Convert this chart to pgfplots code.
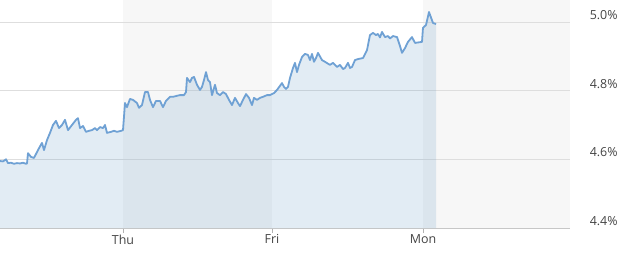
\documentclass[border=0pt]{standalone}
\usepackage{pgfplots}
\pgfplotsset{compat=1.18}
\usepackage{pgfplotstable}
\usepackage{fontspec}
\setmainfont{Open Sans}
\definecolor{linec}{RGB}{111,161,212}
\definecolor{fillc}{RGB}{110,160,200}
\definecolor{bandc}{RGB}{247,247,247}
\definecolor{gridc}{RGB}{222,222,222}
\definecolor{labc}{RGB}{68,68,68}
\pgfplotstableread{
x y
0 4.595
3 4.594
5 4.598
6 4.600
8 4.589
11 4.590
14 4.587
17 4.589
20 4.588
23 4.590
26 4.587
27 4.588
28 4.618
31 4.607
34 4.604
38 4.627
42 4.648
44 4.627
47 4.656
50 4.677
53 4.700
56 4.712
59 4.691
62 4.700
65 4.715
68 4.685
72 4.700
76 4.715
78 4.720
80 4.691
83 4.697
86 4.680
89 4.683
92 4.685
95 4.691
97 4.685
100 4.694
103 4.691
105 4.700
107 4.677
111 4.680
114 4.683
117 4.680
121 4.683
123 4.685
125 4.764
127 4.752
130 4.776
133 4.773
137 4.764
139 4.750
142 4.758
145 4.796
148 4.796
150 4.773
153 4.752
156 4.770
160 4.770
163 4.752
166 4.770
170 4.782
173 4.782
177 4.785
180 4.787
184 4.787
186 4.796
187 4.837
190 4.825
192 4.837
194 4.840
197 4.817
200 4.802
202 4.811
204 4.831
206 4.854
208 4.831
210 4.825
212 4.787
215 4.817
217 4.793
220 4.787
223 4.796
226 4.790
229 4.773
232 4.758
235 4.779
238 4.764
240 4.755
243 4.773
246 4.790
249 4.779
252 4.758
254 4.779
257 4.773
260 4.779
263 4.782
267 4.787
270 4.787
274 4.793
277 4.802
280 4.814
282 4.822
284 4.811
286 4.805
288 4.811
290 4.837
293 4.866
295 4.881
297 4.854
299 4.875
302 4.898
305 4.907
308 4.904
310 4.889
312 4.907
314 4.884
316 4.895
318 4.910
322 4.889
325 4.884
330 4.875
333 4.881
337 4.869
340 4.875
343 4.863
345 4.866
348 4.881
350 4.866
352 4.869
355 4.889
358 4.892
363 4.895
367 4.918
370 4.962
373 4.968
376 4.962
378 4.965
380 4.955
382 4.971
385 4.956
388 4.959
390 4.952
393 4.959
397 4.956
400 4.930
402 4.910
405 4.924
408 4.942
412 4.956
415 4.939
422 4.942
423 4.983
426 4.991
429 5.029
433 4.997
436 4.994
}\yielddata
\begin{document}
\begin{tikzpicture}
\useasboundingbox (0,-27bp) rectangle (634bp,228bp);
\begin{axis}[
  at={(0,0)}, anchor=south west,
  scale only axis, width=570bp, height=228bp,
  xmin=0, xmax=570, ymin=4.4, ymax=5.064,
  axis x line*=bottom, axis y line*=right,
  x axis line style={draw=black!22, -},
  y axis line style={draw=none},
  xtick={123,272,423}, xticklabels={Thu,Fri,Mon},
  ytick={4.4,4.6,4.8,5.0}, yticklabels={4.4\%,4.6\%,4.8\%,5.0\%},
  tick align=outside,
  xtick style={draw=black!30, line width=0.8bp},
  x tick style={/pgfplots/major tick length=5bp},
  ytick style={draw=none},
  ticklabel style={font=\fontsize{12.5}{14}\selectfont, text=labc},
  xticklabel style={yshift=1bp},
  yticklabel style={anchor=west, xshift=12bp, yshift=7bp},
  clip=false,
]
\addplot[fill=bandc, draw=none] coordinates {(123,4.4) (123,5.064) (272,5.064) (272,4.4)} -- cycle;
\addplot[fill=bandc, draw=none] coordinates {(423,4.4) (423,5.064) (570,5.064) (570,4.4)} -- cycle;
\addplot[gridc, line width=0.8bp] coordinates {(0,4.6) (570,4.6)};
\addplot[gridc, line width=0.8bp] coordinates {(0,4.8) (570,4.8)};
\addplot[gridc, line width=0.8bp] coordinates {(0,5.0) (570,5.0)};
\addplot[fill=fillc, fill opacity=0.2, draw=none] table[x=x,y=y] {\yielddata} \closedcycle;
\addplot[color=linec, line width=1.8bp, line join=round] table[x=x,y=y] {\yielddata};
\end{axis}
\end{tikzpicture}
\end{document}
